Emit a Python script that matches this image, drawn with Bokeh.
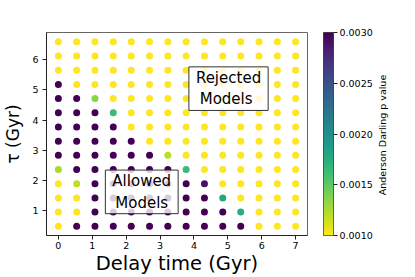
import math
import numpy as np
from bokeh.plotting import figure
from bokeh.layouts import row
from bokeh.models import (ColumnDataSource, LinearColorMapper, FixedTicker,
                          PrintfTickFormatter, Label, Range1d)
from bokeh.palettes import Viridis256
from bokeh.transform import transform
from bokeh.embed import file_html
from bokeh.resources import INLINE

# Grid of model parameters
delay_times = [0.0, 0.54, 1.08, 1.62, 2.15, 2.69, 3.23, 3.77, 4.31, 4.85, 5.38, 5.92, 6.46, 7.0]
taus = [0.48, 0.95, 1.42, 1.89, 2.36, 2.83, 3.30, 3.77, 4.24, 4.71, 5.18, 5.65, 6.12, 6.59]

LO = 0.0010
HI = 0.0030
# Anderson Darling p value, one row per tau (lowest tau first), one column per delay time
p_rows = [
    [LO, HI, HI, HI, HI, HI, HI, HI, HI, HI, HI, LO, LO, LO],
    [LO, LO, HI, HI, HI, HI, HI, HI, HI, HI, 0.00175, LO, LO, LO],
    [LO, LO, HI, HI, HI, HI, HI, HI, HI, 0.0018, LO, LO, LO, LO],
    [LO, 0.0012, HI, HI, HI, HI, HI, HI, 0.0029, LO, LO, LO, LO, LO],
    [0.00126, HI, HI, HI, HI, HI, HI, 0.00164, LO, LO, LO, LO, LO, LO],
    [HI, HI, HI, HI, HI, HI, 0.0012, LO, LO, LO, LO, LO, LO, LO],
    [HI, HI, HI, HI, HI, LO, LO, LO, LO, LO, LO, LO, LO, LO],
    [HI, HI, HI, HI, LO, LO, LO, LO, LO, LO, LO, LO, LO, LO],
    [HI, HI, HI, 0.00164, LO, LO, LO, LO, LO, LO, LO, LO, LO, LO],
    [HI, HI, 0.00136, LO, LO, LO, LO, LO, LO, LO, LO, LO, LO, LO],
    [HI, LO, LO, LO, LO, LO, LO, LO, LO, LO, LO, LO, LO, LO],
    [LO, LO, LO, LO, LO, LO, LO, LO, LO, LO, LO, LO, LO, LO],
    [LO, LO, LO, LO, LO, LO, LO, LO, LO, LO, LO, LO, LO, LO],
    [LO, LO, LO, LO, LO, LO, LO, LO, LO, LO, LO, LO, LO, LO],
]
cbar_ticks = [0.0010, 0.0015, 0.0020, 0.0025, 0.0030]
x_ticks = [0, 1, 2, 3, 4, 5, 6, 7]
y_ticks = [1, 2, 3, 4, 5, 6]

xs, ys, ps = [], [], []
for i, t in enumerate(taus):
    for j, d in enumerate(delay_times):
        xs.append(d)
        ys.append(t)
        ps.append(p_rows[i][j])
src = ColumnDataSource(dict(x=xs, y=ys, p=ps))

FONT = "DejaVu Sans"
P_LOW, P_HIGH = 0.001, 0.003
mapper = LinearColorMapper(palette=list(reversed(Viridis256)), low=P_LOW, high=P_HIGH)

p = figure(width=323, height=277, min_border_left=42, min_border_top=32,
           min_border_right=16, min_border_bottom=42,
           x_range=Range1d(-0.35, 7.35), y_range=Range1d(0.175, 6.9),
           output_backend="svg", toolbar_location=None)
p.grid.visible = False
p.outline_line_color = "#666666"
p.background_fill_color = "white"
p.border_fill_color = "white"

p.scatter("x", "y", source=src, size=7, line_color=None,
          fill_color=transform("p", mapper))

for ax in (p.xaxis[0], p.yaxis[0]):
    ax.major_label_text_font = FONT
    ax.major_label_text_font_size = "9.5px"
    ax.major_label_text_color = "black"
    ax.axis_label_text_font = FONT
    ax.axis_label_text_font_style = "normal"
    ax.axis_label_text_color = "black"
    ax.minor_tick_line_color = None
    ax.major_tick_in = 0
    ax.major_tick_out = 4
    ax.axis_line_color = "#222222"
    ax.major_tick_line_color = "#222222"

p.xaxis.ticker = FixedTicker(ticks=x_ticks)
p.yaxis.ticker = FixedTicker(ticks=y_ticks)
p.xaxis.axis_label = "Delay time (Gyr)"
p.yaxis.axis_label = "τ (Gyr)"
p.xaxis.axis_label_text_font_size = "19.5px"
p.yaxis.axis_label_text_font_size = "17px"
p.xaxis.major_label_standoff = 2
p.xaxis.axis_label_standoff = 0
p.yaxis.major_label_standoff = 4
p.yaxis.axis_label_standoff = 6

for (lx, ly, txt) in [(5.02, 5.04, "Rejected\n Models"), (2.46, 1.62, "Allowed\nModels")]:
    p.add_layout(Label(x=lx, y=ly, text=txt, text_align="center", text_baseline="middle",
                       text_font=FONT, text_font_size="15px", text_color="black",
                       background_fill_color="white", background_fill_alpha=0.8,
                       border_line_color="#333333", border_line_width=1,
                       padding=(7, 2)))

# colour bar as its own small figure
cb = figure(width=52, height=277, min_border_left=0, min_border_top=32,
            min_border_right=40, min_border_bottom=42,
            x_range=Range1d(0, 1), y_range=Range1d(P_LOW, P_HIGH),
            x_axis_location=None, y_axis_location="right",
            output_backend="svg", toolbar_location=None)
cb.grid.visible = False
cb.outline_line_color = "#444444"
cb.border_fill_color = "white"
grad = np.linspace(P_LOW, P_HIGH, 256).reshape(256, 1)
cb.image(image=[grad], x=0, y=P_LOW, dw=1, dh=P_HIGH - P_LOW, color_mapper=mapper)
yax = cb.yaxis[0]
yax.ticker = FixedTicker(ticks=cbar_ticks)
yax.formatter = PrintfTickFormatter(format="%.4f")
yax.major_label_text_font = FONT
yax.major_label_text_font_size = "9.5px"
yax.major_label_text_color = "black"
yax.minor_tick_line_color = None
yax.major_tick_in = 0
yax.major_tick_out = 4
yax.major_label_standoff = 2
yax.axis_line_color = None
yax.major_tick_line_color = "#222222"

# narrow strip holding the colour bar's rotated label
lab = figure(width=40, height=277, min_border_left=0, min_border_right=0,
             min_border_top=32, min_border_bottom=42,
             x_range=Range1d(0, 40), y_range=Range1d(P_LOW, P_HIGH),
             x_axis_location=None, y_axis_location=None,
             output_backend="svg", toolbar_location=None)
lab.grid.visible = False
lab.outline_line_color = None
lab.border_fill_color = "white"
lab.add_layout(Label(x=6.7, y=(P_LOW + P_HIGH) / 2 - 0.00001, text="Anderson Darling p value",
                     angle=math.pi / 2, text_align="center", text_baseline="middle",
                     text_font=FONT, text_font_size="9.5px", text_color="black"))

layout = row(p, cb, lab)
open("out.html", "w").write(file_html(layout, INLINE))
